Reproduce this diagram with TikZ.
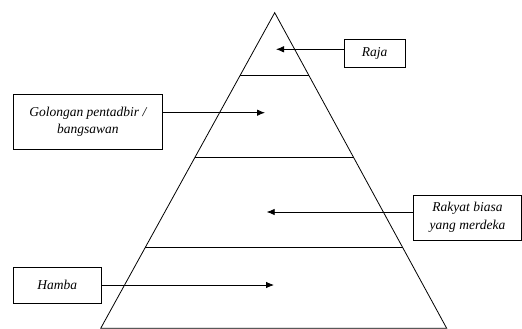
\documentclass[tikz,border=0pt]{standalone}
\usepackage{fontspec}
\setmainfont{Liberation Serif}
\usetikzlibrary{calc,arrows.meta}

\begin{document}
\begin{tikzpicture}[
  x=1pt,y=-1pt,
  label box/.style={
    draw,
    align=center,
    inner sep=0pt,
    font=\fontsize{13.5}{17.5}\selectfont\itshape,
  },
  every path/.style={line width=0.8pt},
  pointer/.style={draw,-{Latex[length=8pt,width=6.5pt]}},
  ]
  \useasboundingbox (0,0) rectangle (522,329);
  % pyramid
  \coordinate (apex)       at (274.7,12.7);
  \coordinate (base-left)  at (100.7,328.3);
  \coordinate (base-right) at (446.7,328.3);
  \draw (base-left) -- (apex) -- (base-right) -- cycle;
  \foreach \t/\name in {0.2/raja,0.46/pentadbir,0.745/rakyat} {
    \draw ($(apex)!\t!(base-left)$) coordinate (\name-left)
      -- ($(apex)!\t!(base-right)$) coordinate (\name-right);
  }
  % labels
  \node[label box,minimum width=61,minimum height=28.4] (raja-box)
    at (374.5,53.5) {Raja};
  \node[label box,minimum width=149,minimum height=54.7] (pentadbir-box)
    at (87.8,121.7) {Golongan pentadbir /\\bangsawan};
  \node[label box,minimum width=108,minimum height=45] (rakyat-box)
    at (467.5,217.5) {Rakyat biasa\\yang merdeka};
  \node[label box,minimum width=87.7,minimum height=36] (hamba-box)
    at (57.2,285.3) {Hamba};
  % pointers
  \coordinate (raja-tip)      at (276,49.3);
  \coordinate (pentadbir-tip) at (265,112.7);
  \coordinate (rakyat-tip)    at (266.7,212);
  \coordinate (hamba-tip)     at (274,285);
  \path[pointer] (raja-box.west |- raja-tip) -- (raja-tip);
  \path[pointer] (pentadbir-box.east |- pentadbir-tip) -- (pentadbir-tip);
  \path[pointer] (rakyat-box.west |- rakyat-tip) -- (rakyat-tip);
  \path[pointer] (hamba-box.east |- hamba-tip) -- (hamba-tip);
\end{tikzpicture}
\end{document}
